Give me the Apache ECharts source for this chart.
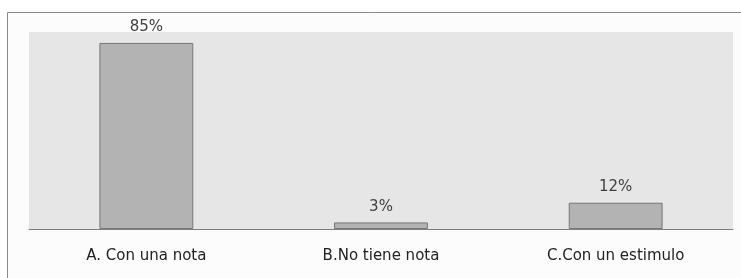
<!DOCTYPE html>
<html>
<head>
<meta charset="utf-8">
<script src="https://cdn.jsdelivr.net/npm/echarts@6/dist/echarts.min.js"></script>
<style>
    html, body { margin: 0; padding: 0; background: #ffffff; }
    #echarts-main { width: 741px; height: 278px; }
</style>
</head>
<body>
<div id="echarts-main"></div>
<script>
    // datos
    const categories = ['A. Con una nota', 'B.No tiene nota', 'C.Con un estimulo']
    const percentages = [85, 3, 12]

    const myChart = echarts.init(document.getElementById('echarts-main'))

    const option = {
        backgroundColor: '#ffffff',
        textStyle: { fontFamily: 'DejaVu Sans' },
        graphic: [
            {
                // marco exterior (sin borde derecho ni inferior visibles)
                type: 'rect',
                z: -10,
                shape: { x: 7.5, y: 12.5, width: 900, height: 400 },
                style: { fill: '#fcfcfc', stroke: '#8a8a8a', lineWidth: 1 }
            }
        ],
        grid: {
            left: 29,
            right: 8,
            top: 32,
            bottom: 49,
            show: true,
            backgroundColor: '#e6e6e6',
            borderWidth: 0
        },
        xAxis: {
            type: 'category',
            data: categories,
            axisTick: { show: false },
            axisLine: { lineStyle: { color: '#808080', width: 1 } },
            axisLabel: {
                margin: 20,
                fontSize: 15,
                color: '#222222'
            }
        },
        yAxis: {
            type: 'value',
            min: 0,
            max: 90,
            show: false,
            splitLine: { show: false }
        },
        series: [
            {
                type: 'bar',
                data: percentages,
                barCategoryGap: '60%',
                itemStyle: {
                    color: '#b3b3b3',
                    borderColor: '#777777',
                    borderWidth: 1
                },
                label: {
                    show: true,
                    position: 'top',
                    distance: 8,
                    fontSize: 15,
                    color: '#404040',
                    formatter: p => p.value + '%'
                }
            }
        ],
        animation: false
    }

    myChart.setOption(option)
</script>
</body>
</html>
